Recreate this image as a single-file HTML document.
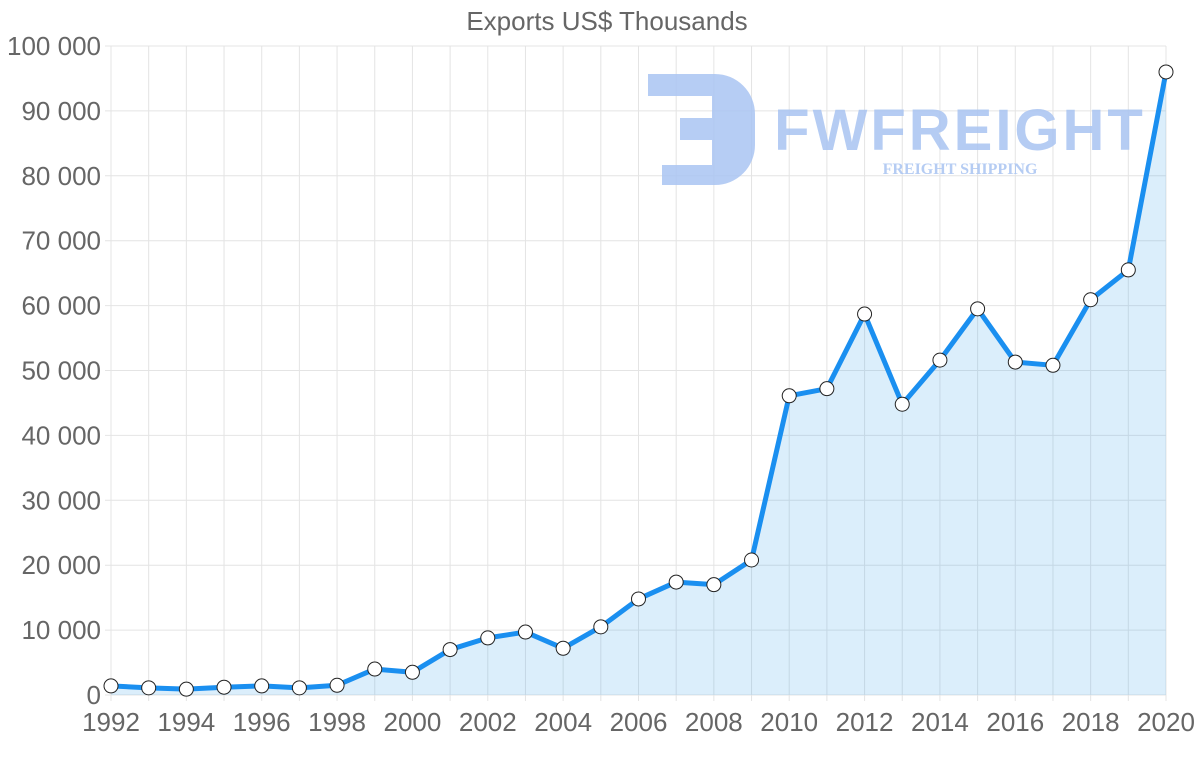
<!DOCTYPE html>
<html><head><meta charset="utf-8"><style>
html,body{margin:0;padding:0;background:#fff;}
svg{display:block;font-family:"Liberation Sans",Arial,sans-serif;}
</style></head><body>
<svg width="1200" height="763" viewBox="0 0 1200 763" xmlns="http://www.w3.org/2000/svg">
<rect width="1200" height="763" fill="#fff"/>
<text x="607" y="30" text-anchor="middle" font-size="26" fill="#666">Exports US$ Thousands</text>
<g id="grid" stroke="#e4e4e4" stroke-width="1"></g>
<g id="ylab" font-size="26" fill="#666" text-anchor="end"></g>
<g id="xlab" font-size="26" fill="#666" text-anchor="middle"></g>
<!-- watermark -->
<g opacity="0.85">
<path d="M648 74 H715 A40 40 0 0 1 755 114 V145 A40 40 0 0 1 715 185 H662 V165 H712 V140 H680 V118 H712 V96 H648 Z" fill="#a9c4f2"/>
<text x="960" y="150" text-anchor="middle" font-size="58" font-weight="bold" fill="#a9c4f2" letter-spacing="3">FWFREIGHT</text>
<text x="960" y="174" text-anchor="middle" font-size="16" font-weight="bold" fill="#a9c4f2" font-family="Liberation Serif,serif">FREIGHT SHIPPING</text>
</g>
<path id="area" fill="rgba(54,162,235,0.18)"/>
<path id="line" fill="none" stroke="#1a8ff0" stroke-width="5" stroke-linejoin="round"/>
<g id="pts" fill="#fff" stroke="#222" stroke-width="1"></g>
</svg>
<script>
var d=[1400,1100,900,1200,1400,1100,1500,4000,3500,7000,8800,9700,7200,10500,14800,17400,17000,20800,46100,47200,58700,44800,51600,59500,51300,50800,60900,65500,96000];
var x0=111,x1=1166,y0=695,y1=46,ns="http://www.w3.org/2000/svg";
function X(i){return x0+(x1-x0)*i/28}function Y(v){return y0-(y0-y1)*v/100000}
function el(p,t,a,txt){var e=document.createElementNS(ns,t);for(var k in a)e.setAttribute(k,a[k]);if(txt!=null)e.textContent=txt;document.getElementById(p).appendChild(e);}
for(var i=0;i<=28;i++){el("grid","line",{x1:X(i),x2:X(i),y1:y1,y2:y0+6});if(i%2==0)el("xlab","text",{x:X(i),y:731},String(1992+i));}
for(var j=0;j<=10;j++){var y=Y(j*10000);el("grid","line",{x1:x0-6,x2:x1,y1:y,y2:y});el("ylab","text",{x:101,y:y+9},j==0?"0":(j*10)+" 000");}
var p="";for(var i=0;i<29;i++)p+=(i?"L":"M")+X(i)+" "+Y(d[i]);
document.getElementById("line").setAttribute("d",p);
document.getElementById("area").setAttribute("d",p+"L"+x1+" "+y0+"L"+x0+" "+y0+"Z");
for(var i=0;i<29;i++)el("pts","circle",{cx:X(i),cy:Y(d[i]),r:7});
</script>
</body></html>
